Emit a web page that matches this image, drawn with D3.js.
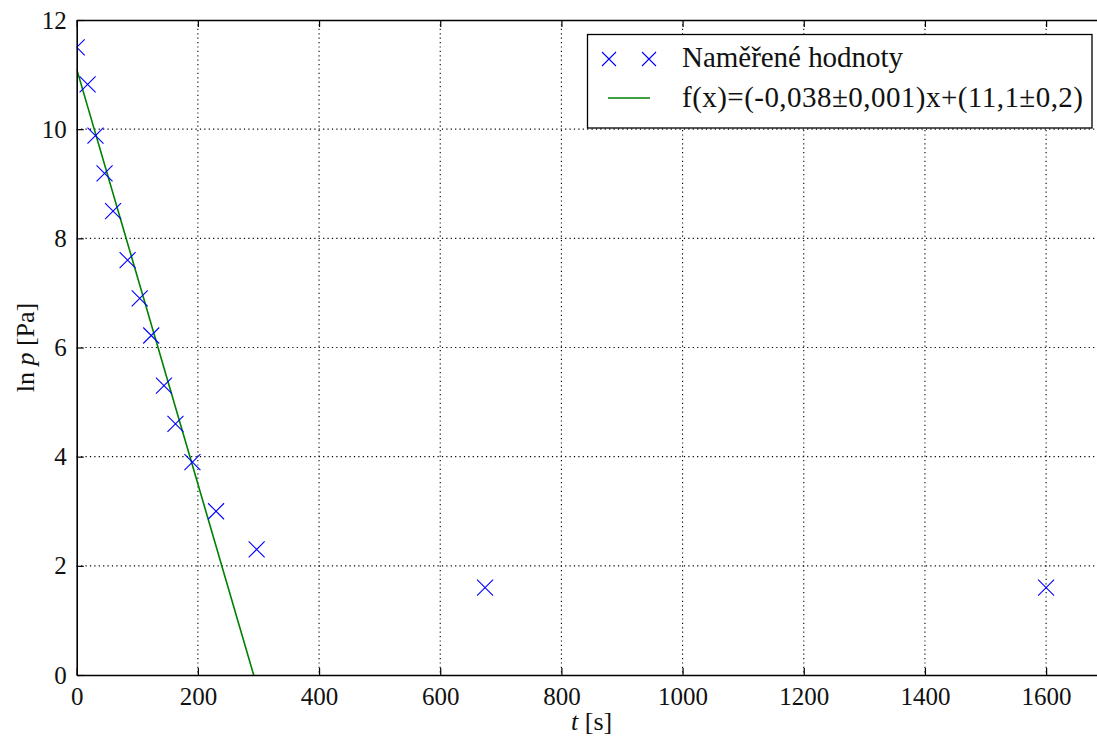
<!DOCTYPE html>
<html>
<head>
<meta charset="utf-8">
<script src="https://cdn.jsdelivr.net/npm/d3@7"></script>
<style>
  html, body { margin: 0; padding: 0; background: #fff; overflow: hidden; }
  svg { display: block; }
</style>
</head>
<body>
<svg id="chart" width="1097" height="739"></svg>
<script>
// ---- data ----
const timeValues = [0, 18, 31, 46, 60, 84, 104, 123, 144, 163, 191, 230, 297, 674, 1600];
const lnPValues  = [11.5, 10.82, 9.88, 9.19, 8.5, 7.6, 6.9, 6.22, 5.3, 4.6, 3.9, 3.0, 2.3, 1.6, 1.6];
const xTicks = [0, 200, 400, 600, 800, 1000, 1200, 1400, 1600];
const yTicks = [0, 2, 4, 6, 8, 10, 12];
const fitSlope = -0.038;
const fitIntercept = 11.1;
const legendLabels = ["Naměřené hodnoty", "f(x)=(-0,038±0,001)x+(11,1±0,2)"];

(function () {
const SERIF = "'Liberation Serif'";
// ---- layout ----
const svg = d3.select("#chart");
const pl = 76.7, pr = 1106.7, pt = 20, pb = 675;
const x = d3.scaleLinear().domain([0, 1700]).range([pl, pr]);
const y = d3.scaleLinear().domain([0, 12]).range([pb, pt]);

svg.append("defs").append("clipPath").attr("id", "plotclip")
  .append("rect").attr("x", pl).attr("y", pt)
  .attr("width", pr - pl).attr("height", pb - pt);

// grid
const grid = svg.append("g");
grid.selectAll(".gx").data(xTicks.filter(d => d > 0)).enter().append("line")
  .attr("x1", d => x(d)).attr("x2", d => x(d))
  .attr("y1", pt).attr("y2", pb)
  .attr("stroke", "#000").attr("stroke-width", 1.1).attr("stroke-dasharray", "1.2,3.2");
grid.selectAll(".gy").data(yTicks.filter(d => d > 0 && d < 12)).enter().append("line")
  .attr("y1", d => y(d)).attr("y2", d => y(d))
  .attr("x1", pl).attr("x2", pr)
  .attr("stroke", "#000").attr("stroke-width", 1.1).attr("stroke-dasharray", "1.2,3.2");

// plot content
const plot = svg.append("g").attr("clip-path", "url(#plotclip)");

// fit line
plot.append("line")
  .attr("x1", x(0)).attr("y1", y(fitIntercept))
  .attr("x2", x(1700)).attr("y2", y(fitIntercept + fitSlope * 1700))
  .attr("stroke", "#008000").attr("stroke-width", 1.6);

// markers
const ms = 8;
function xMark(g, cx, cy, s) {
  g.append("path")
    .attr("d", `M${cx - s},${cy - s}L${cx + s},${cy + s}M${cx - s},${cy + s}L${cx + s},${cy - s}`)
    .attr("stroke", "#0000ff").attr("stroke-width", 1.1).attr("fill", "none");
}
timeValues.forEach((t, i) => xMark(plot, x(t), y(lnPValues[i]), ms));

// axes with inward ticks
const xAxisB = d3.axisBottom(x).tickValues(xTicks).tickFormat(d3.format("d"))
  .tickSizeInner(-7).tickSizeOuter(0).tickPadding(12);
const xAxisT = d3.axisTop(x).tickValues(xTicks).tickSizeInner(-7).tickSizeOuter(0).tickFormat("");
const yAxisL = d3.axisLeft(y).tickValues(yTicks).tickFormat(d3.format("d"))
  .tickSizeInner(-7).tickSizeOuter(0).tickPadding(10);
const yAxisR = d3.axisRight(y).tickValues(yTicks).tickSizeInner(-7).tickSizeOuter(0).tickFormat("");

function styleAxis(g) {
  g.attr("font-size", 25).attr("font-family", null).style("font-family", SERIF);
  g.select(".domain").attr("stroke", "#000").attr("stroke-width", 1.6);
  g.selectAll(".tick line").attr("stroke", "#000").attr("stroke-width", 1.2);
  g.selectAll(".tick text").attr("font-size", 25).attr("fill", "#111")
    .style("font-family", SERIF);
}
svg.append("g").attr("transform", `translate(0,${pb})`).call(xAxisB).call(styleAxis);
svg.append("g").attr("transform", `translate(0,${pt})`).call(xAxisT).call(styleAxis);
svg.append("g").attr("transform", `translate(${pl},0)`).call(yAxisL).call(styleAxis);
svg.append("g").attr("transform", `translate(${pr},0)`).call(yAxisR).call(styleAxis);

// axis labels
const xl = svg.append("text").attr("x", (pl + pr) / 2).attr("y", 730)
  .attr("text-anchor", "middle").attr("font-size", 26).style("font-family", SERIF).attr("fill", "#111");
xl.append("tspan").attr("font-style", "italic").text("t");
xl.append("tspan").text(" [s]");

const yl = svg.append("text").attr("transform", `translate(34,${(pt + pb) / 2}) rotate(-90)`)
  .attr("text-anchor", "middle").attr("font-size", 26).style("font-family", SERIF).attr("fill", "#111");
yl.append("tspan").text("ln ");
yl.append("tspan").attr("font-style", "italic").text("p");
yl.append("tspan").text(" [Pa]");

// legend
const lg = svg.append("g");
lg.append("rect").attr("x", 587.5).attr("y", 34.5).attr("width", 504.5).attr("height", 93.5)
  .attr("fill", "#fff").attr("stroke", "#000").attr("stroke-width", 1.3);
xMark(lg, 609, 59, 7);
xMark(lg, 649, 59, 7);
lg.append("line").attr("x1", 608).attr("x2", 650).attr("y1", 98).attr("y2", 98)
  .attr("stroke", "#008000").attr("stroke-width", 1.6);
lg.append("text").attr("x", 682).attr("y", 67).attr("font-size", 29).style("font-family", SERIF).attr("fill", "#111")
  .attr("textLength", 221).attr("lengthAdjust", "spacing").text(legendLabels[0]);
lg.append("text").attr("x", 682).attr("y", 107).attr("font-size", 29).style("font-family", SERIF).attr("fill", "#111")
  .attr("textLength", 401).attr("lengthAdjust", "spacing").text(legendLabels[1]);
})();
</script>
</body>
</html>
